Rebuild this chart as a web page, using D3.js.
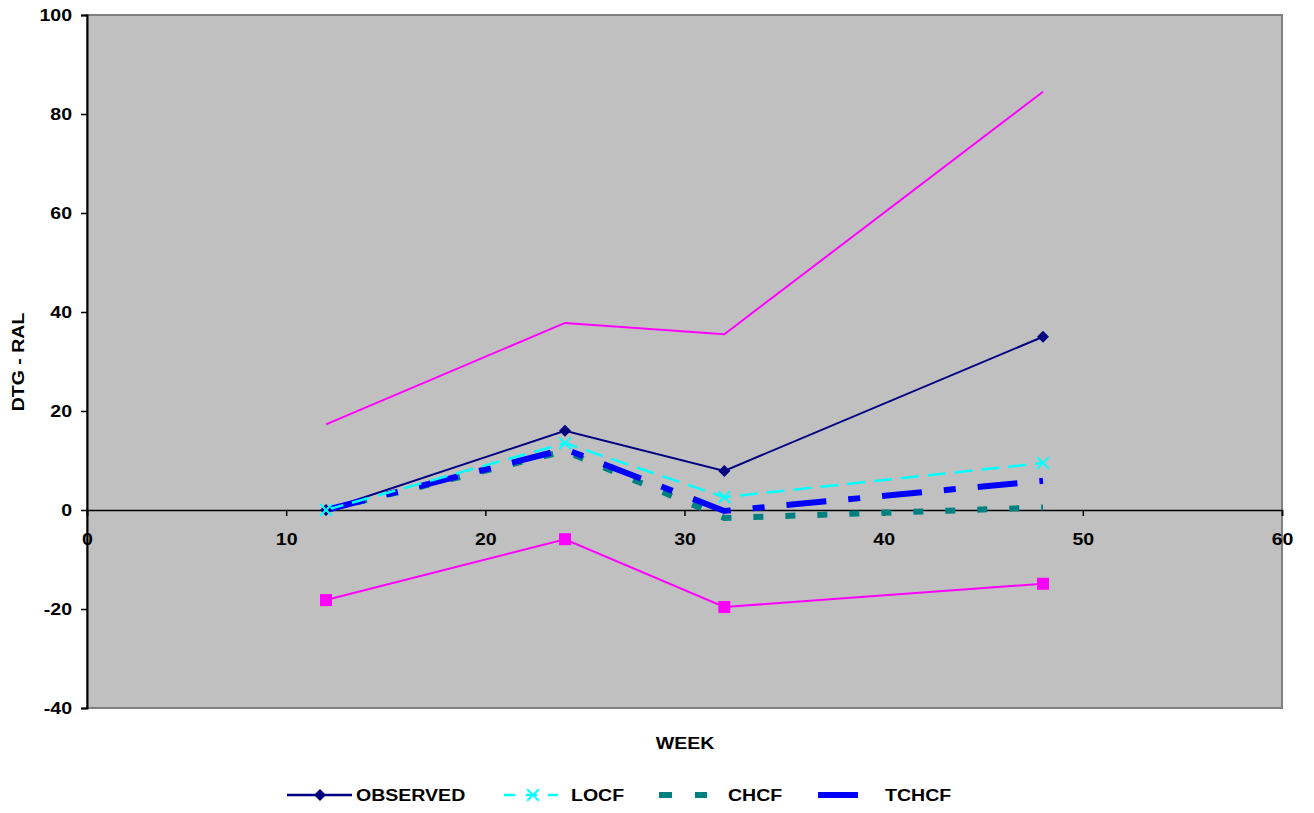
<!DOCTYPE html>
<html><head><meta charset="utf-8">
<script src="https://cdn.jsdelivr.net/npm/d3@7"></script>
<style>body{margin:0;background:#fff}text{font-family:"Liberation Sans",Arial,sans-serif;font-weight:bold}</style>
</head><body><svg id="c" width="1314" height="813"></svg>
<script>
const weeks = [12, 24, 32, 48];
const observed = [0, 16, 7.9, 35];
const locf = [0, 13.5, 2.6, 9.5];
const chcf = [0, 11.9, -1.6, 0.5];
const tchcf = [0, 12.3, -0.2, 5.9];
const upperCI = [17.3, 37.8, 35.5, 84.5];
const lowerCI = [-18.2, -5.9, -19.6, -14.9];
const xTicks = [0, 10, 20, 30, 40, 50, 60];
const yTicks = [-40, -20, 0, 20, 40, 60, 80, 100];
const legendNames = ["OBSERVED", "LOCF", "CHCF", "TCHCF"];

const svg = d3.select("#c");
const L = 87, R = 1282, T = 15, B = 708;
const x = d3.scaleLinear().domain([0, 60]).range([L, R]);
const y = d3.scaleLinear().domain([-40, 100]).range([B, T]);
const SX = 1.15;
const FS = 17;
const fmt = d => String(d);

svg.append("rect").attr("x", L).attr("y", T).attr("width", R - L).attr("height", B - T)
  .attr("fill", "#c0c0c0").attr("stroke", "#808080").attr("stroke-width", 2);

// y axis
const ya = svg.append("g").attr("transform", `translate(${L},0)`)
  .call(d3.axisLeft(y).tickValues(yTicks).tickFormat(fmt).tickSize(6).tickPadding(0));
ya.select(".domain").attr("stroke", "#000").attr("stroke-width", 2);
ya.selectAll(".tick line").attr("stroke", "#000").attr("stroke-width", 1.5);
ya.selectAll(".tick text").attr("font-size", FS).attr("fill", "#000")
  .attr("font-family", "Liberation Sans, Arial").attr("font-weight", "bold")
  .attr("x", 0).attr("transform", `translate(-15,0) scale(${SX},1)`);

// x axis at y=0
const xa = svg.append("g").attr("transform", `translate(0,${y(0)})`)
  .call(d3.axisBottom(x).tickValues(xTicks).tickFormat(fmt).tickSize(6).tickPadding(17));
xa.select(".domain").attr("stroke", "#000").attr("stroke-width", 1.5);
xa.selectAll(".tick line").attr("stroke", "#000").attr("stroke-width", 1.5);
xa.selectAll(".tick text").attr("font-size", FS).attr("fill", "#000")
  .attr("font-family", "Liberation Sans, Arial").attr("font-weight", "bold")
  .attr("transform", `scale(${SX},1)`);

const line = d3.line().x((d, i) => x(weeks[i])).y(d => y(d));

function drawLine(vals, color, width, dash) {
  svg.append("path").datum(vals).attr("d", line).attr("fill", "none")
    .attr("stroke", color).attr("stroke-width", width)
    .attr("stroke-dasharray", dash || null);
}
drawLine(upperCI, "#ff00ff", 2);
drawLine(lowerCI, "#ff00ff", 2);
svg.selectAll(".sq").data(lowerCI).enter().append("rect")
  .attr("x", (d, i) => x(weeks[i]) - 6).attr("y", d => y(d) - 6)
  .attr("width", 12).attr("height", 12).attr("fill", "#ff00ff");

drawLine(observed, "#000080", 2);
drawLine(chcf, "#008080", 6, "10,22");
drawLine(tchcf, "#0000ff", 6, "40,22,12,22");
drawLine(locf, "#00ffff", 2.5, "18,9");

const diamondPath = "M0,-6L6,0L0,6L-6,0Z";
svg.selectAll(".dm").data(observed).enter().append("path")
  .attr("d", diamondPath).attr("fill", "#000080")
  .attr("transform", (d, i) => `translate(${x(weeks[i])},${y(d)})`);
const cross = d3.symbol().type(d3.symbolX).size(90);
svg.selectAll(".cx").data(locf).enter().append("path")
  .attr("d", cross).attr("fill", "none").attr("stroke", "#00ffff").attr("stroke-width", 2)
  .attr("transform", (d, i) => `translate(${x(weeks[i])},${y(d)})`);

// titles
svg.append("text").attr("transform", `translate(24,362) rotate(-90) scale(${SX},1)`)
  .attr("text-anchor", "middle").attr("font-size", FS).text("DTG - RAL");
svg.append("text").attr("transform", `translate(685,749) scale(${SX},1)`)
  .attr("text-anchor", "middle").attr("font-size", FS).text("WEEK");

// legend
const ly = 795;
const lg = svg.append("g");
lg.append("line").attr("x1", 287).attr("x2", 352).attr("y1", ly).attr("y2", ly).attr("stroke", "#000080").attr("stroke-width", 2.5);
lg.append("path").attr("d", diamondPath).attr("fill", "#000080").attr("transform", `translate(320,${ly})`);
lg.append("line").attr("x1", 504).attr("x2", 558).attr("y1", ly).attr("y2", ly).attr("stroke", "#00ffff").attr("stroke-width", 2.5).attr("stroke-dasharray", "11,11");
lg.append("path").attr("d", cross).attr("fill", "none").attr("stroke", "#00ffff").attr("stroke-width", 2).attr("transform", `translate(533,${ly})`);
lg.append("line").attr("x1", 659).attr("x2", 707).attr("y1", ly).attr("y2", ly).attr("stroke", "#008080").attr("stroke-width", 6).attr("stroke-dasharray", "13,23");
lg.append("line").attr("x1", 818).attr("x2", 858).attr("y1", ly).attr("y2", ly).attr("stroke", "#0000ff").attr("stroke-width", 6);
const lx = [356, 571, 728, 885];
legendNames.forEach((n, i) => {
  lg.append("text").attr("transform", `translate(${lx[i]},${ly + 6}) scale(${SX},1)`)
    .attr("font-size", FS).text(n);
});
</script></body></html>
